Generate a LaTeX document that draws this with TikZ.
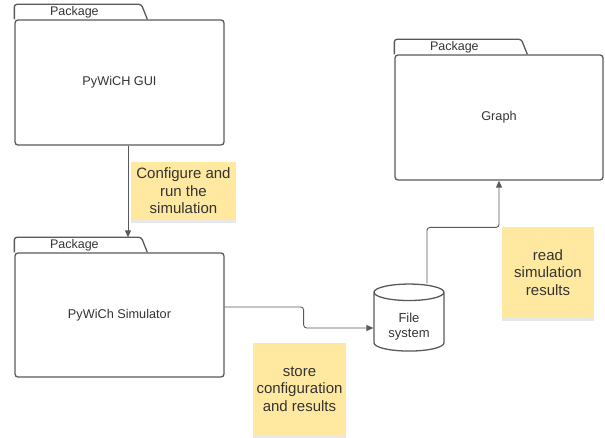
\documentclass[tikz,border=0pt]{standalone}
\usepackage{fontspec}
\setmainfont{Liberation Sans}
\usetikzlibrary{shapes.geometric,shadows,arrows.meta}
\definecolor{edge}{HTML}{595959}
\definecolor{ink}{HTML}{333333}
\definecolor{sticky}{HTML}{FFE9A0}
\tikzstyle{pkgbody}=[rectangle,draw=edge,line width=1.3pt,rounded corners=3pt,
                     inner sep=0pt,font=\fontsize{12.7}{15}\selectfont,text=ink]
\tikzstyle{pkgtab}=[draw=edge,line width=1.3pt,rounded corners=2.5pt]
\tikzstyle{pkglabel}=[inner sep=0pt,font=\fontsize{12.5}{15}\selectfont,text=ink]
\tikzstyle{note}=[rectangle,fill=sticky,inner sep=0pt,align=center,text=ink,
                  font=\fontsize{15}{17.5}\selectfont,
                  drop shadow={opacity=0.18,shadow xshift=0pt,shadow yshift=-3pt}]
\tikzstyle{conn}=[draw=edge,line width=0.9pt,rounded corners=3pt,
                  -{Triangle[length=7pt,width=6pt]}]

\begin{document}
\begin{tikzpicture}[x=1pt,y=-1pt]
    \useasboundingbox (0,0) rectangle (605,438);
    \newcommand{\tabw}{127}
    % package bodies
    \node (gui) at (119.5,82.5) [pkgbody,minimum width=209pt,minimum height=125pt]{PyWiCH GUI};
    \node (sim) at (119.5,315) [pkgbody,minimum width=209pt,minimum height=124pt]{PyWiCh Simulator};
    \node (graph) at (499,117.5) [pkgbody,minimum width=208pt,minimum height=125pt]{Graph};
    % folder tabs
    \draw[pkgtab] (gui.north west) -- ++(0,-15) -- ++(\tabw,0) -- ++(6,15);
    \draw[pkgtab] (sim.north west) -- ++(0,-15) -- ++(\tabw,0) -- ++(6,15);
    \draw[pkgtab] (graph.north west) -- ++(0,-15) -- ++(\tabw,0) -- ++(6,15);
    \node (p1) at ([shift={(60,-7.5)}]gui.north west) [pkglabel]{Package};
    \node (p2) at ([shift={(60,-7.5)}]sim.north west) [pkglabel]{Package};
    \node (p3) at ([shift={(60,-7.5)}]graph.north west) [pkglabel]{Package};
    \coordinate (simtop) at ([shift={(0,-15)}]sim.north west);

    \node (fs) at (409,322) [cylinder,shape border rotate=90,aspect=0.4,draw=edge,
        line width=1.3pt,minimum width=70pt,minimum height=67pt,inner sep=0pt,
        text=ink,font=\fontsize{13}{15}\selectfont]
        {\raisebox{-5pt}[\height][\depth]{\begin{tabular}{@{}c@{}}File\\system\end{tabular}}};

    % sticky notes
    \node (n1) at (183.5,191) [note,minimum width=105pt,minimum height=58pt]{Configure and\\run the\\simulation};
    \node (n2) at (299.5,389) [note,minimum width=93pt,minimum height=92pt]{store\\configuration\\and results};
    \node (n3) at (548,272.5) [note,minimum width=92pt,minimum height=91pt]{read\\simulation\\results};

    % connectors
    \draw[conn] ([xshift=8.5pt]gui.south) -- ([xshift=8.5pt]gui.south |- simtop);
    \draw[conn] ([yshift=8pt]sim.east) -- ++(79,0) |- ([yshift=-6pt]fs.west);
    \draw[conn] ([xshift=18pt]fs.north) -- ++(0,-56) -| (graph.south);
\end{tikzpicture}
\end{document}
